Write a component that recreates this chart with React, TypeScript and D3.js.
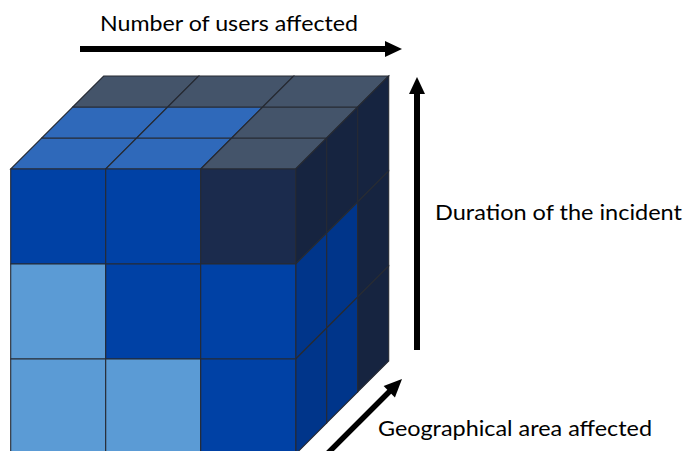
import React from "react";
import * as d3 from "d3";

// Severity levels per cell: 1 = low, 2 = medium, 3 = high
// Front face (rows top→bottom, columns left→right = number of users)
const frontLevels: number[][] = [
  [2, 2, 3],
  [1, 2, 2],
  [1, 1, 2],
];
// Top face (rows = depth front→back, columns left→right)
const topLevels: number[][] = [
  [2, 2, 3],
  [2, 2, 3],
  [3, 3, 3],
];
// Right face (rows top→bottom, columns = depth front→back)
const sideLevels: number[][] = [
  [3, 3, 3],
  [2, 2, 3],
  [2, 2, 3],
];

const levels = [1, 2, 3];
const frontColors = ["#5b9bd5", "#0041a5", "#1b2b4d"];
const topColors = ["#8db8e6", "#2f69ba", "#44546a"];
const sideColors = ["#4a85c0", "#00358a", "#162440"];

const axisLabels = [
  "Number of users affected",
  "Duration of the incident",
  "Geographical area affected",
];

const W = 684;
const H = 451;

export default function App() {
  const xs = d3.scaleLinear().domain([0, 3]).range([10.7, 295.7]);
  const ys = d3.scaleLinear().domain([0, 3]).range([169, 454]);
  const ds = d3.scaleLinear().domain([0, 3]).range([0, 93]);

  const frontC = d3.scaleOrdinal<number, string>().domain(levels).range(frontColors);
  const topC = d3.scaleOrdinal<number, string>().domain(levels).range(topColors);
  const sideC = d3.scaleOrdinal<number, string>().domain(levels).range(sideColors);

  const P = (c: number, r: number, d: number): [number, number] => [
    xs(c) + ds(d),
    ys(r) - ds(d),
  ];
  const line = d3.line<[number, number]>();
  const poly = (pts: [number, number][]) => line(pts) + "Z";

  const stroke = "#262a33";
  const sw = 1.1;

  const cells: React.ReactNode[] = [];
  topLevels.forEach((row, di) => {
    // draw back rows first
    const d = 2 - di === di ? di : di;
    row.forEach((lv, c) => {
      cells.push(
        <path
          key={`t${d}-${c}`}
          d={poly([P(c, 0, d), P(c + 1, 0, d), P(c + 1, 0, d + 1), P(c, 0, d + 1)])}
          fill={topC(lv)}
          stroke={stroke}
          strokeWidth={sw}
        />
      );
    });
  });
  sideLevels.forEach((row, r) => {
    row.forEach((lv, d) => {
      cells.push(
        <path
          key={`s${r}-${d}`}
          d={poly([P(3, r, d), P(3, r, d + 1), P(3, r + 1, d + 1), P(3, r + 1, d)])}
          fill={sideC(lv)}
          stroke={stroke}
          strokeWidth={sw}
        />
      );
    });
  });
  frontLevels.forEach((row, r) => {
    row.forEach((lv, c) => {
      cells.push(
        <path
          key={`f${r}-${c}`}
          d={poly([P(c, r, 0), P(c + 1, r, 0), P(c + 1, r + 1, 0), P(c, r + 1, 0)])}
          fill={frontC(lv)}
          stroke={stroke}
          strokeWidth={sw}
        />
      );
    });
  });

  const arrowHead = (tip: [number, number], dir: [number, number], len: number, half: number) => {
    const n = Math.hypot(dir[0], dir[1]);
    const ux = dir[0] / n;
    const uy = dir[1] / n;
    const bx = tip[0] - ux * len;
    const by = tip[1] - uy * len;
    return poly([
      tip,
      [bx - uy * half, by + ux * half],
      [bx + uy * half, by - ux * half],
    ]);
  };

  const font = "Lato, 'Open Sans', sans-serif";

  return (
    <svg
      width={W}
      height={H}
      style={{ position: "absolute", left: 0, top: 0, background: "#fff" }}
    >
      <rect x={0} y={0} width={W} height={H} fill="#fff" />
      <g>{cells}</g>

      {/* users arrow */}
      <line x1={80} y1={49} x2={388} y2={49} stroke="#000" strokeWidth={6} />
      <path d={arrowHead([402, 49], [1, 0], 17, 8)} fill="#000" />

      {/* duration arrow */}
      <line x1={417} y1={350} x2={417} y2={91} stroke="#000" strokeWidth={6} />
      <path d={arrowHead([417, 77], [0, -1], 17, 8)} fill="#000" />

      {/* geography arrow */}
      <line x1={322} y1={459} x2={392} y2={389} stroke="#000" strokeWidth={5.5} />
      <path d={arrowHead([402, 379], [1, -1], 18, 8)} fill="#000" />

      <text x={100} y={31} fontFamily={font} fontSize={21} fill="#000" textLength={258} lengthAdjust="spacingAndGlyphs">
        {axisLabels[0]}
      </text>
      <text x={435} y={220} fontFamily={font} fontSize={21} fill="#000" textLength={247} lengthAdjust="spacingAndGlyphs">
        {axisLabels[1]}
      </text>
      <text x={378} y={436} fontFamily={font} fontSize={21} fill="#000" textLength={274} lengthAdjust="spacingAndGlyphs">
        {axisLabels[2]}
      </text>
    </svg>
  );
}
